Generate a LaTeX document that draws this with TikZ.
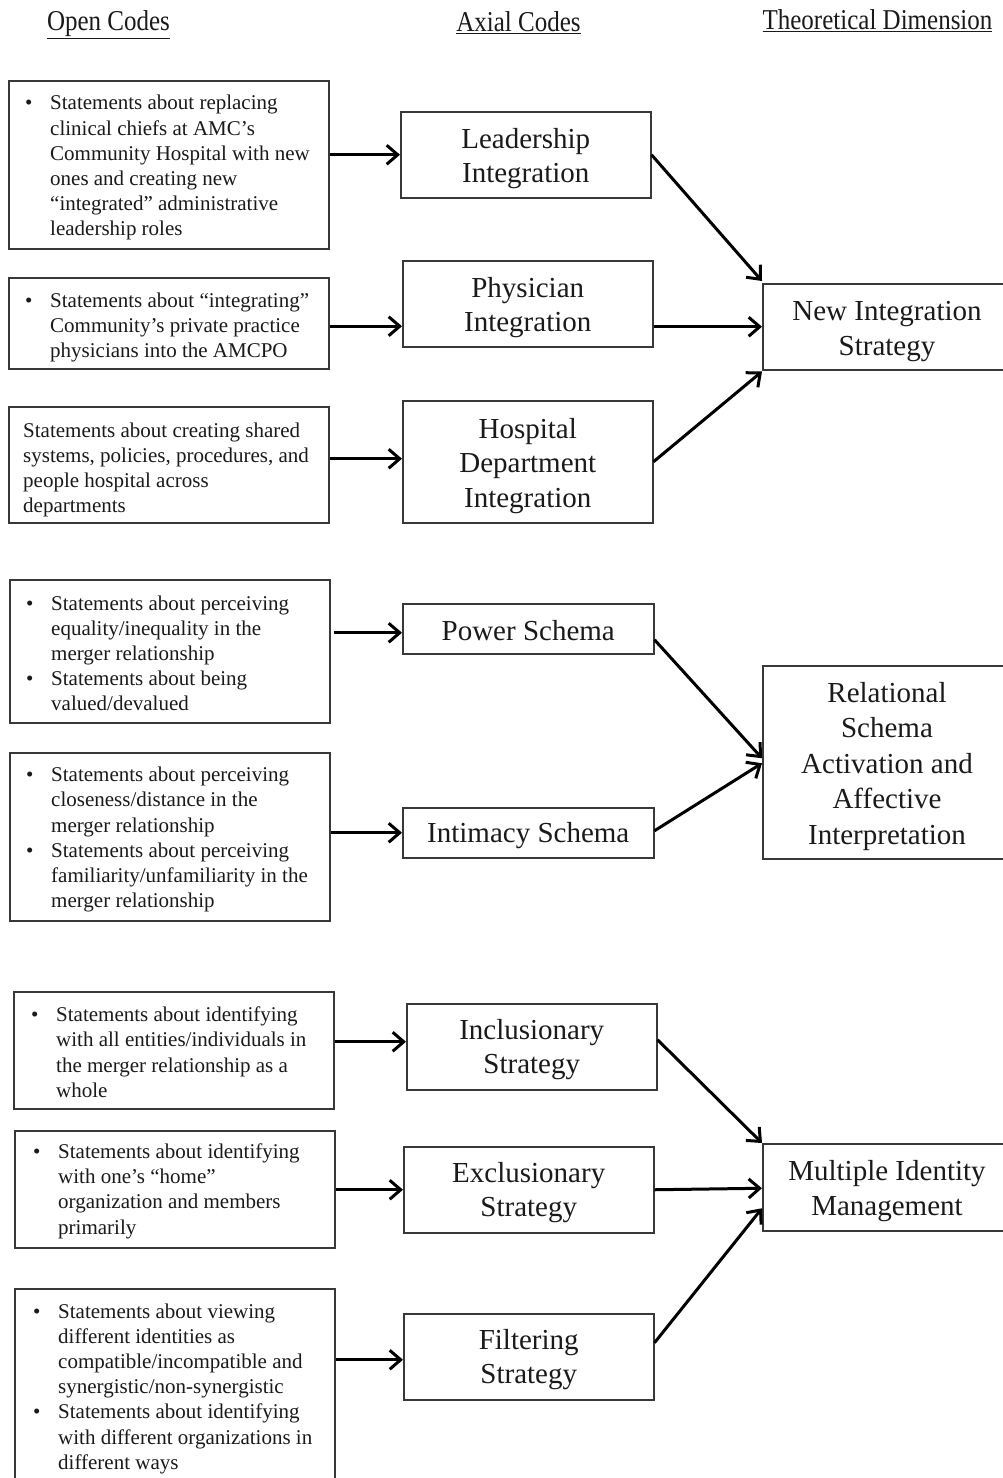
\documentclass[tikz,border=0pt]{standalone}
\usepackage{fontspec}
\setmainfont{Liberation Serif}
\usetikzlibrary{arrows.meta}
\definecolor{ink}{HTML}{1A1A1A}
\definecolor{frame}{HTML}{383838}
% bullet and hanging indent for the open-code lists
\newcommand\bl{\makebox[25pt][l]{\textbullet}}
\newcommand\hi{\hspace*{25pt}}
\begin{document}
\begin{tikzpicture}[x=1pt,y=-1pt,
  head/.style={text=ink, font={\fontsize{25}{30}\selectfont}, inner sep=0pt},
  obox/.style={draw=frame, line width=1.5pt, rectangle, inner sep=0pt, anchor=north west},
  otext/.style={text=ink, font={\fontsize{21}{25.2}\selectfont}, align=left, inner sep=0pt, anchor=west},
  abox/.style={draw=frame, line width=1.5pt, rectangle, inner sep=0pt, anchor=north west},
  atext/.style={text=ink, align=center, inner sep=0pt, font={\fontsize{29}{34.5}\selectfont}},
  arr/.style={draw=black, line width=3pt,
    -{Straight Barb[length=11pt, width=19pt, line width=3pt]}}
]
\useasboundingbox (0,0) rectangle (1003,1478);
\clip (0,0) rectangle (1003,1478);
\fill[white] (0,0) rectangle (1003,1478);

% column headings
\node[head, anchor=base] (h1) at (108.5,30) {\scalebox{1}[1.15]{\underline{Open Codes}}};
\node[head, anchor=base] (h2) at (518.5,31) {\scalebox{1}[1.15]{\underline{Axial Codes}}};
\node[head, anchor=base] (h3) at (877.5,29) {\scalebox{1}[1.15]{\underline{Theoretical Dimension}}};

% ---------- open codes ----------
\node[obox, minimum width=320pt, minimum height=168pt] (o1) at (8,80) {};
\node[otext] (o1t) at ([xshift=17pt, yshift=-3pt]o1.west)
  {\bl Statements about replacing\\ \hi clinical chiefs at AMC’s\\ \hi Community Hospital with new\\
   \hi ones and creating new\\ \hi “integrated” administrative\\ \hi leadership roles};

\node[obox, minimum width=320pt, minimum height=91pt] (o2) at (8,277) {};
\node[otext] (o2t) at ([xshift=17pt, yshift=-4pt]o2.west)
  {\bl Statements about “integrating”\\ \hi Community’s private practice\\ \hi physicians into the AMCPO};

\node[obox, minimum width=320pt, minimum height=116pt] (o3) at (8,406) {};
\node[otext] (o3t) at ([xshift=15pt, yshift=-5pt]o3.west)
  {Statements about creating shared\\ systems, policies, procedures, and\\ people hospital across\\ departments};

\node[obox, minimum width=320pt, minimum height=143pt] (o4) at (9,579) {};
\node[otext] (o4t) at ([xshift=17pt, yshift=-2pt]o4.west)
  {\bl Statements about perceiving\\ \hi equality/inequality in the\\ \hi merger relationship\\
   \bl Statements about being\\ \hi valued/devalued};

\node[obox, minimum width=320pt, minimum height=168pt] (o5) at (9,752) {};
\node[otext] (o5t) at ([xshift=17pt, yshift=-3pt]o5.west)
  {\bl Statements about perceiving\\ \hi closeness/distance in the\\ \hi merger relationship\\
   \bl Statements about perceiving\\ \hi familiarity/unfamiliarity in the\\ \hi merger relationship};

\node[obox, minimum width=320pt, minimum height=117pt] (o6) at (13,991) {};
\node[otext] (o6t) at ([xshift=18pt, yshift=-2pt]o6.west)
  {\bl Statements about identifying\\ \hi with all entities/individuals in\\ \hi the merger relationship as a\\ \hi whole};

\node[obox, minimum width=320pt, minimum height=117pt] (o7) at (14,1130) {};
\node[otext] (o7t) at ([xshift=19pt, yshift=-2pt]o7.west)
  {\bl Statements about identifying\\ \hi with one’s “home”\\ \hi organization and members\\ \hi primarily};

\node[obox, minimum width=320pt, minimum height=196pt] (o8) at (14,1288) {};
\node[otext] (o8t) at ([xshift=19pt, yshift=-2pt]o8.west)
  {\bl Statements about viewing\\ \hi different identities as\\ \hi compatible/incompatible and\\
   \hi synergistic/non-synergistic\\ \bl Statements about identifying\\ \hi with different organizations in\\ \hi different ways};

% ---------- axial codes ----------
\node[abox, minimum width=250pt, minimum height=86pt] (a1) at (400,111) {};
\node[atext] (a1t) at ([yshift=-4pt]a1.center) {Leadership\\Integration};
\node[abox, minimum width=250pt, minimum height=86pt] (a2) at (402,260) {};
\node[atext] (a2t) at ([yshift=-4pt]a2.center) {Physician\\Integration};
\node[abox, minimum width=250pt, minimum height=122pt] (a3) at (402,400) {};
\node[atext] (a3t) at ([yshift=-4pt]a3.center) {Hospital\\Department\\Integration};
\node[abox, minimum width=251pt, minimum height=50pt] (a4) at (402,603) {};
\node[atext] (a4t) at ([yshift=-2pt]a4.center) {Power Schema};
\node[abox, minimum width=251pt, minimum height=50pt] (a5) at (402,807) {};
\node[atext] (a5t) at ([yshift=-3pt]a5.center) {Intimacy Schema};
\node[abox, minimum width=250pt, minimum height=86pt] (a6) at (406,1003) {};
\node[atext] (a6t) at ([yshift=-3pt]a6.center) {Inclusionary\\Strategy};
\node[abox, minimum width=250pt, minimum height=86pt] (a7) at (403,1146) {};
\node[atext] (a7t) at ([yshift=-3pt]a7.center) {Exclusionary\\Strategy};
\node[abox, minimum width=250pt, minimum height=86pt] (a8) at (403,1313) {};
\node[atext] (a8t) at ([yshift=-3pt]a8.center) {Filtering\\Strategy};

% ---------- theoretical dimensions ----------
\node[abox, minimum width=260pt, minimum height=86pt] (t1) at (762,283) {};
\node[atext] (t1t) at ([xshift=125pt, yshift=-5pt]t1.west) {New Integration\\Strategy};
\node[abox, minimum width=260pt, minimum height=193pt] (t2) at (762,665) {};
\node[atext, font={\fontsize{29}{35.5}\selectfont}]
  (t2t) at ([xshift=125pt, yshift=-4pt]t2.west) {Relational\\Schema\\Activation and\\Affective\\Interpretation};
\node[abox, minimum width=260pt, minimum height=87pt] (t3) at (762,1143) {};
\node[atext] (t3t) at ([xshift=125pt, yshift=-4pt]t3.west) {Multiple Identity\\Management};

% ---------- open -> axial ----------
\draw[arr] (o1.east |- a1.west) -- (a1.west);
\draw[arr] ([yshift=-3pt]o2.east) -- ([yshift=-3pt]o2.east -| a2.west);
\draw[arr] ([yshift=6pt]o3.east) -- ([yshift=6pt]o3.east -| a3.west);
\draw[arr] ([xshift=3pt, yshift=-4pt]o4.east |- a4.west) -- ([yshift=-4pt]a4.west);
\draw[arr] (o5.east |- a5.west) -- (a5.west);
\draw[arr] ([yshift=5pt]o6.east |- a6.west) -- ([yshift=5pt]a6.west);
\draw[arr] (o7.east |- a7.west) -- (a7.west);
\draw[arr] ([yshift=-3pt]o8.east |- a8.west) -- ([yshift=-3pt]a8.west);

% ---------- axial -> theoretical ----------
\draw[arr] (a1.east) -- ([yshift=2pt]t1.north west);
\draw[arr] (a2.east |- t1.west) -- (t1.west);
\draw[arr] (a3.east) -- ([yshift=-1pt]t1.south west);
\draw[arr] ([yshift=-11pt]a4.east) -- ([yshift=4pt]t2.west);
\draw[arr] ([yshift=2pt]a5.east) -- ([yshift=-1pt]t2.west);
\draw[arr] ([yshift=7pt]a6.east) -- (t3.north west);
\draw[arr] (a7.east) -- ([yshift=-1pt]t3.west);
\draw[arr] ([yshift=14pt]a8.east) -- ([yshift=-21pt]t3.west);
\end{tikzpicture}
\end{document}
